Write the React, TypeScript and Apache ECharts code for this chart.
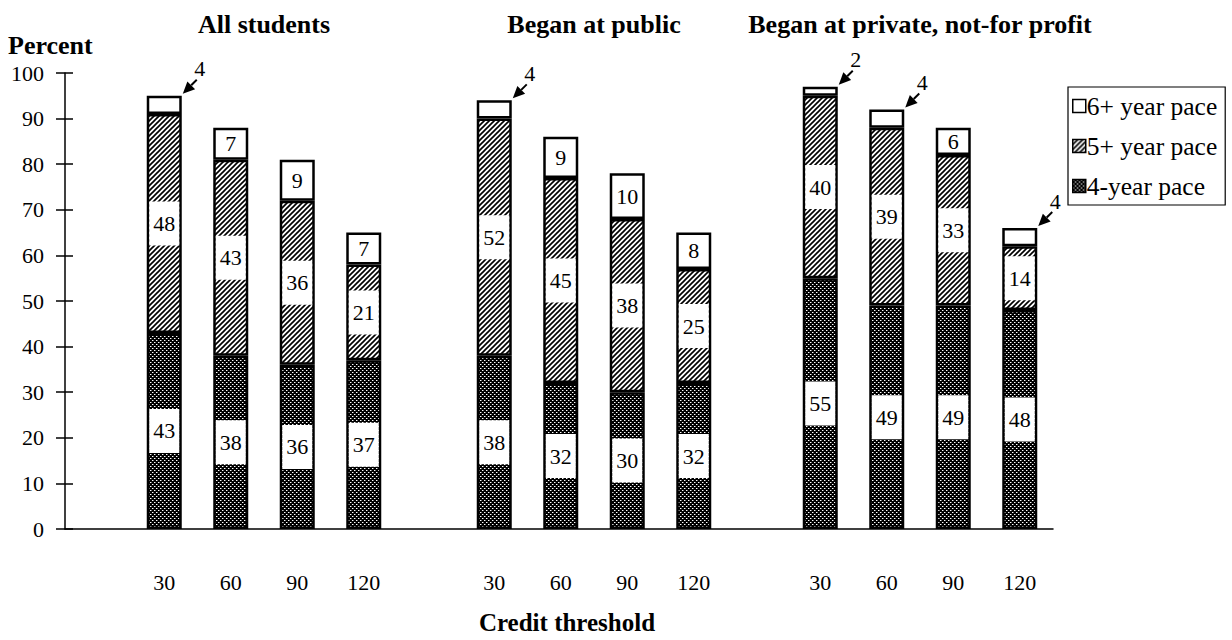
import React, { useEffect, useRef } from 'react';
import * as echarts from 'echarts';

const GROUP_TITLES = ['All students', 'Began at public', 'Began at private, not-for profit'];
const CREDITS = ['30', '60', '90', '120'];
const FOUR_YEAR = [
  [43, 38, 36, 37],
  [38, 32, 30, 32],
  [55, 49, 49, 48],
];
const FIVE_PLUS = [
  [48, 43, 36, 21],
  [52, 45, 38, 25],
  [40, 39, 33, 14],
];
const SIX_PLUS = [
  [4, 7, 9, 7],
  [4, 9, 10, 8],
  [2, 4, 6, 4],
];
const NAMES = ['4-year pace', '5+ year pace', '6+ year pace'];

const FONT = '"Liberation Serif", "Times New Roman", serif';
const BAR_W = 35;
const GRID_TOP = 73;
const GRID_H = 456;
const GROUP_LEFT = [131, 461, 787];
const GROUP_W = 266;

function makeHatch() {
  const s = 5;
  const c = document.createElement('canvas');
  c.width = s; c.height = s;
  const g = c.getContext('2d')!;
  g.fillStyle = '#fff'; g.fillRect(0, 0, s, s);
  g.strokeStyle = '#000'; g.lineWidth = 1.7;
  const seg = (x1: number, y1: number, x2: number, y2: number) => { g.beginPath(); g.moveTo(x1, y1); g.lineTo(x2, y2); g.stroke(); };
  seg(-1, s + 1, s + 1, -1);
  seg(-1, 1, 1, -1);
  seg(s - 1, s + 1, s + 1, s - 1);
  return { image: c, repeat: 'repeat', imageWidth: s, imageHeight: s };
}
function makeDots() {
  const s = 4;
  const c = document.createElement('canvas');
  c.width = s; c.height = s;
  const g = c.getContext('2d')!;
  g.fillStyle = '#000'; g.fillRect(0, 0, s, s);
  g.fillStyle = '#fff';
  g.fillRect(0, 0, 1, 1);
  g.fillRect(2, 2, 1, 1);
  g.fillStyle = 'rgba(255,255,255,0.45)';
  g.fillRect(1, 0, 1, 1);
  g.fillRect(3, 2, 1, 1);
  return { image: c, repeat: 'repeat', imageWidth: s, imageHeight: s };
}

export default function App() {
  const ref = useRef<HTMLDivElement>(null);
  useEffect(() => {
    if (!ref.current) return;
    const chart = echarts.init(ref.current, undefined, { renderer: 'svg' });
    const fills = [makeDots(), makeHatch(), '#fff'];
    const values = [FOUR_YEAR, FIVE_PLUS, SIX_PLUS];

    const boxLabel = {
      show: true, position: 'inside', color: '#000', fontSize: 22, fontFamily: FONT,
      backgroundColor: '#fff', width: 30, height: 44, lineHeight: 44, align: 'center', verticalAlign: 'middle',
    };
    const plainLabel = { show: true, position: 'inside', color: '#000', fontSize: 22, fontFamily: FONT };

    const series: any[] = [];
    for (let g = 0; g < 3; g++) {
      for (let k = 0; k < 3; k++) {
        series.push({
          type: 'bar', name: NAMES[k], stack: 'grp' + g, xAxisIndex: g + 1, yAxisIndex: g + 1,
          barWidth: BAR_W,
          itemStyle: { color: fills[k], borderColor: '#000', borderWidth: 2.5 },
          label: k === 2 ? plainLabel : boxLabel,
          data: values[k][g].map((v) => (k === 2 && v < 5 ? { value: v, label: { show: false } } : v)),
        });
      }
      const calls = CREDITS.map((c, i) => [i, FOUR_YEAR[g][i] + FIVE_PLUS[g][i] + SIX_PLUS[g][i], SIX_PLUS[g][i]])
        .filter((d) => d[2] < 5);
      series.push({
        type: 'custom', xAxisIndex: g + 1, yAxisIndex: g + 1, silent: true, z: 5,
        data: calls,
        renderItem: (params: any, api: any) => {
          const p = api.coord([api.value(0), api.value(1)]);
          const cx = p[0] + BAR_W / 2;
          const cy = p[1];
          const tx = cx + 15, ty = cy - 16;
          const hx = cx + 1, hy = cy - 2;
          const dx = hx - tx, dy = hy - ty;
          const len = Math.sqrt(dx * dx + dy * dy);
          const ux = dx / len, uy = dy / len;
          const bx = hx - ux * 12, by = hy - uy * 12;
          const px = -uy, py = ux;
          return {
            type: 'group',
            children: [
              { type: 'line', shape: { x1: tx, y1: ty, x2: bx, y2: by }, style: { stroke: '#000', lineWidth: 2 } },
              { type: 'polygon', shape: { points: [[hx, hy], [bx + px * 5.5, by + py * 5.5], [bx - px * 5.5, by - py * 5.5]] }, style: { fill: '#000' } },
              { type: 'text', x: cx + 18, y: cy - 27, style: { text: String(api.value(2)), fontSize: 22, fontFamily: FONT, fill: '#000', align: 'center', verticalAlign: 'middle' } },
            ],
          };
        },
      });
    }

    // grid 0: axis lines; grids 1-3: groups; grid 4: y ticks (crossing the axis line) and labels
    const grids: any[] = [{ left: 65, top: GRID_TOP, width: 988, height: GRID_H }];
    const xAxes: any[] = [
      { type: 'value', gridIndex: 0, min: 0, max: 1, axisLine: { show: true, onZero: false, lineStyle: { color: '#000', width: 1.5 } }, axisTick: { show: false }, axisLabel: { show: false }, splitLine: { show: false } },
    ];
    const yAxes: any[] = [
      { type: 'value', gridIndex: 0, position: 'left', min: 0, max: 100, interval: 10,
        axisLine: { show: true, onZero: false, lineStyle: { color: '#000', width: 1.5 } },
        axisTick: { show: false }, axisLabel: { show: false }, splitLine: { show: false } },
    ];
    for (let g = 0; g < 3; g++) {
      grids.push({ left: GROUP_LEFT[g], top: GRID_TOP, width: GROUP_W, height: GRID_H });
      xAxes.push({ type: 'category', gridIndex: g + 1, data: CREDITS, axisLine: { show: false }, axisTick: { show: false },
        axisLabel: { color: '#000', fontSize: 22, fontFamily: FONT, margin: 42 } });
      yAxes.push({ type: 'value', gridIndex: g + 1, min: 0, max: 100, show: false });
    }
    grids.push({ left: 73, top: GRID_TOP, width: 10, height: GRID_H });
    xAxes.push({ type: 'value', gridIndex: 4, min: 0, max: 1, show: false });
    yAxes.push({ type: 'value', gridIndex: 4, position: 'left', min: 0, max: 100, interval: 10,
      axisLine: { show: false, onZero: false },
      axisTick: { show: true, inside: false, length: 17, lineStyle: { color: '#000', width: 1.5 } },
      axisLabel: { show: true, color: '#000', fontSize: 22, fontFamily: FONT, margin: 29 }, splitLine: { show: false } });

    const graphic: any[] = GROUP_TITLES.map((t, g) => ({
      type: 'text', x: GROUP_LEFT[g] + GROUP_W / 2, y: 24,
      style: { text: t, fontSize: 26, fontWeight: 'bold', fontFamily: FONT, fill: '#000', align: 'center', verticalAlign: 'middle' },
    }));
    graphic.push({ type: 'text', x: 8, y: 45, style: { text: 'Percent', fontSize: 26, fontWeight: 'bold', fontFamily: FONT, fill: '#000', align: 'left', verticalAlign: 'middle' } });
    graphic.push({ type: 'text', x: 567, y: 622, style: { text: 'Credit threshold', fontSize: 25, fontWeight: 'bold', fontFamily: FONT, fill: '#000', align: 'center', verticalAlign: 'middle' } });

    chart.setOption({
      animation: false,
      backgroundColor: '#fff',
      grid: grids,
      xAxis: xAxes,
      yAxis: yAxes,
      legend: {
        data: ['6+ year pace', '5+ year pace', '4-year pace'],
        orient: 'vertical', left: 1068, top: 87,
        icon: 'rect', itemWidth: 13, itemHeight: 13, itemGap: 14,
        padding: [6, 8, 6, 4],
        borderColor: '#000', borderWidth: 1.2,
        itemStyle: { borderColor: '#000', borderWidth: 1.5 },
        textStyle: { color: '#000', fontSize: 25.5, fontFamily: FONT, padding: [0, 0, 0, -4] },
      },
      graphic,
      series,
    });
    return () => chart.dispose();
  }, []);
  return <div ref={ref} style={{ position: 'fixed', left: 0, top: 0, width: 1232, height: 640 }} />;
}
